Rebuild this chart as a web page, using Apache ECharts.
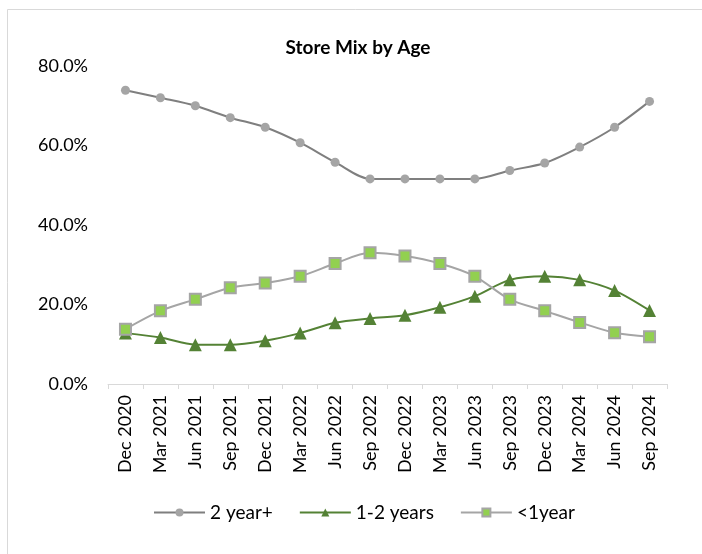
<!DOCTYPE html>
<html><head><meta charset="utf-8">
<script src="https://cdn.jsdelivr.net/npm/echarts@6/dist/echarts.min.js"></script>
<style>html,body{margin:0;padding:0;background:#fff}#c{width:702px;height:554px}</style>
</head><body><div id="c"></div>
<script>
const categories = ['Dec 2020','Mar 2021','Jun 2021','Sep 2021','Dec 2021','Mar 2022','Jun 2022','Sep 2022','Dec 2022','Mar 2023','Jun 2023','Sep 2023','Dec 2023','Mar 2024','Jun 2024','Sep 2024'];
const twoYearPlus = [73.9,72.0,70.0,67.0,64.6,60.7,55.8,51.6,51.6,51.6,51.6,53.7,55.6,59.6,64.6,71.1];
const oneToTwoYears = [12.8,11.7,9.9,9.9,10.9,12.8,15.4,16.5,17.3,19.3,22.1,26.2,27.1,26.2,23.5,18.5];
const underOneYear = [13.8,18.4,21.3,24.2,25.4,27.1,30.3,33.0,32.2,30.3,27.1,21.3,18.4,15.5,12.9,11.9];
const seriesNames = ['2 year+','1-2 years','<1year'];
const chartTitle = 'Store Mix by Age';

const FONT = 'Lato, "Open Sans", sans-serif';
const chart = echarts.init(document.getElementById('c'));
chart.setOption({
  animation:false,
  backgroundColor:'#fff',
  graphic:[
    {type:'rect',shape:{x:7.5,y:9.5,width:720,height:600},style:{fill:'none',stroke:'#d9d9d9',lineWidth:1},silent:true},
    {type:'text',x:358,y:48,style:{text:chartTitle,textAlign:'center',textVerticalAlign:'middle',fontFamily:FONT,fontWeight:'bold',fontSize:19,fill:'#000'}}
  ],
  grid:{left:108,right:35,top:66,bottom:170},
  legend:{top:503,left:153,padding:0,itemGap:26,itemWidth:51,itemHeight:10,textStyle:{fontFamily:FONT,fontSize:19,color:'#000',padding:[0,0,0,0]},
    data:seriesNames},
  xAxis:{type:'category',data:categories,boundaryGap:true,
    axisLine:{lineStyle:{color:'#d9d9d9',width:1}},
    axisTick:{show:true,length:5,lineStyle:{color:'#d9d9d9'}},
    axisLabel:{rotate:90,fontFamily:FONT,fontSize:18,color:'#000',margin:11,interval:0}},
  yAxis:{type:'value',min:0,max:80,interval:20,
    axisLine:{show:false},axisTick:{show:false},splitLine:{show:false},
    axisLabel:{fontFamily:FONT,fontSize:18,color:'#000',margin:20,formatter:v=>v.toFixed(1)+'%'}},
  series:[
    {name:seriesNames[0],type:'line',data:twoYearPlus,smooth:0.3,symbol:'circle',symbolSize:9,
      lineStyle:{color:'#7f7f7f',width:2},itemStyle:{color:'#a5a5a5',borderWidth:0}},
    {name:seriesNames[1],type:'line',data:oneToTwoYears,smooth:0.3,symbol:'triangle',symbolSize:13,
      lineStyle:{color:'#548235',width:2},itemStyle:{color:'#548235',borderWidth:0}},
    {name:seriesNames[2],type:'line',data:underOneYear,smooth:0.3,symbol:'rect',symbolSize:11,
      lineStyle:{color:'#a5a5a5',width:2},itemStyle:{color:'#92d050',borderColor:'#a5a5a5',borderWidth:2}}
  ]
});
</script></body></html>
